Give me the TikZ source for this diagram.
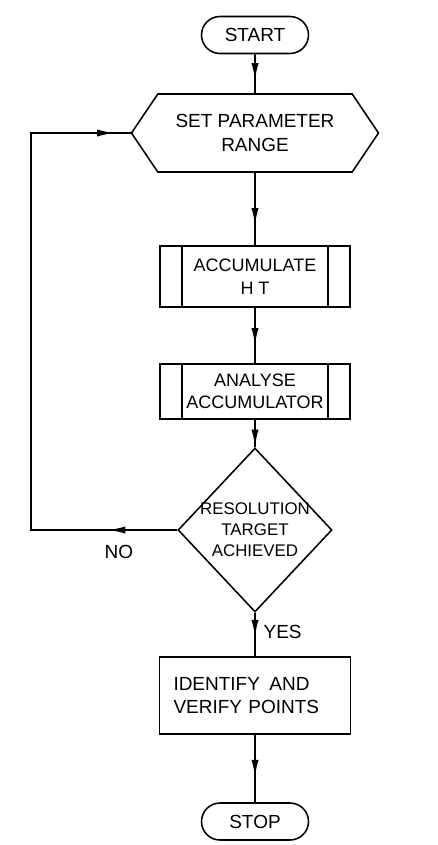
\documentclass[tikz,border=0pt]{standalone}
\usepackage{fontspec}
\setmainfont{Liberation Sans}
\usetikzlibrary{arrows.meta, shapes, positioning, calc, decorations.markings}

\tikzset{
	>={Latex[length=0.42cm, width=0.18cm]},
	terminal/.style={draw, rectangle, rounded corners=0.4625cm, minimum width=2.675cm, minimum height=0.925cm, inner sep=0pt},
	preparation/.style={draw, signal, signal to=west and east, signal pointer angle=112, minimum width=6.175cm, minimum height=1.95cm, inner sep=0pt, align=center},
	process/.style={draw, rectangle, align=center, minimum width=4.75cm, inner sep=0pt},
	subroutine/.style={process, font=\fontsize{12.8}{16}\selectfont, path picture={
		\draw ([xshift=0.55cm]path picture bounding box.north west) -- ([xshift=0.55cm]path picture bounding box.south west);
		\draw ([xshift=-0.55cm]path picture bounding box.north east) -- ([xshift=-0.55cm]path picture bounding box.south east);}},
	decision/.style={draw, diamond, aspect=0.94, minimum width=3.85cm, minimum height=4.1cm, inner sep=-3pt, align=center, font=\fontsize{12}{15}\selectfont},
	midarrow/.style={postaction={decorate}, decoration={markings, mark=at position #1 with {\arrow{>}}}}
}

\begin{document}
\begin{tikzpicture}[line width=1.1pt, font=\fontsize{13.5}{16.5}\selectfont]
			\useasboundingbox (0,0) rectangle (10.95,-21.125);

			% Start
			\node (Start) at (6.375,-0.875) [terminal]{START};

			% Parameter range
			\node (SetRange) at ($(Start)+(0,-2.45)$) [preparation]{SET PARAMETER\\RANGE};

			\draw[midarrow=0.66] (Start) -- (SetRange);

			% Hough transform
			\node (Accumulate) at ($(SetRange)+(0,-3.5875)$) [subroutine, minimum height=1.525cm]{ACCUMULATE\\H T};
			\node (Analyse) at ($(Accumulate)+(0,-2.875)$) [subroutine, minimum height=1.375cm]{ANALYSE\\ACCUMULATOR};

			\draw[midarrow=0.72] (SetRange) -- (Accumulate);
			\draw[midarrow=0.67] (Accumulate) -- (Analyse);

			% Resolution test
			\node (Decision) at ($(Analyse)+(0,-3.4625)$) [decision]{RESOLUTION\\TARGET\\ACHIEVED};

			\draw[midarrow=0.97] (Analyse) -- (Decision);

			\coordinate (NoCorner) at ($(Decision.west)+(-3.65,0)$);
			\coordinate (BackCorner) at (NoCorner |- SetRange.west);
			\draw[postaction={decorate}, decoration={markings, mark=at position 0.107 with {\arrow{>}}, mark=at position 0.974 with {\arrow{>}}}] (Decision.west) -- node[pos=0.4, below=0.25cm]{NO} (NoCorner) -- (BackCorner) -- (SetRange.west);

			% Points
			\node (Identify) at ($(Decision)+(0,-4.1375)$) [process, minimum height=1.925cm, text width=4.075cm, inner xsep=0.35cm, align=left]{IDENTIFY\enspace AND\\VERIFY POINTS};

			\draw[midarrow=0.55] (Decision) -- node[pos=0.44, right=0.08cm]{YES} (Identify);

			% Stop
			\node (Stop) at ($(Identify)+(0,-3.15)$) [terminal]{STOP};

			\draw[midarrow=0.62] (Identify) -- (Stop);

\end{tikzpicture}
\end{document}
